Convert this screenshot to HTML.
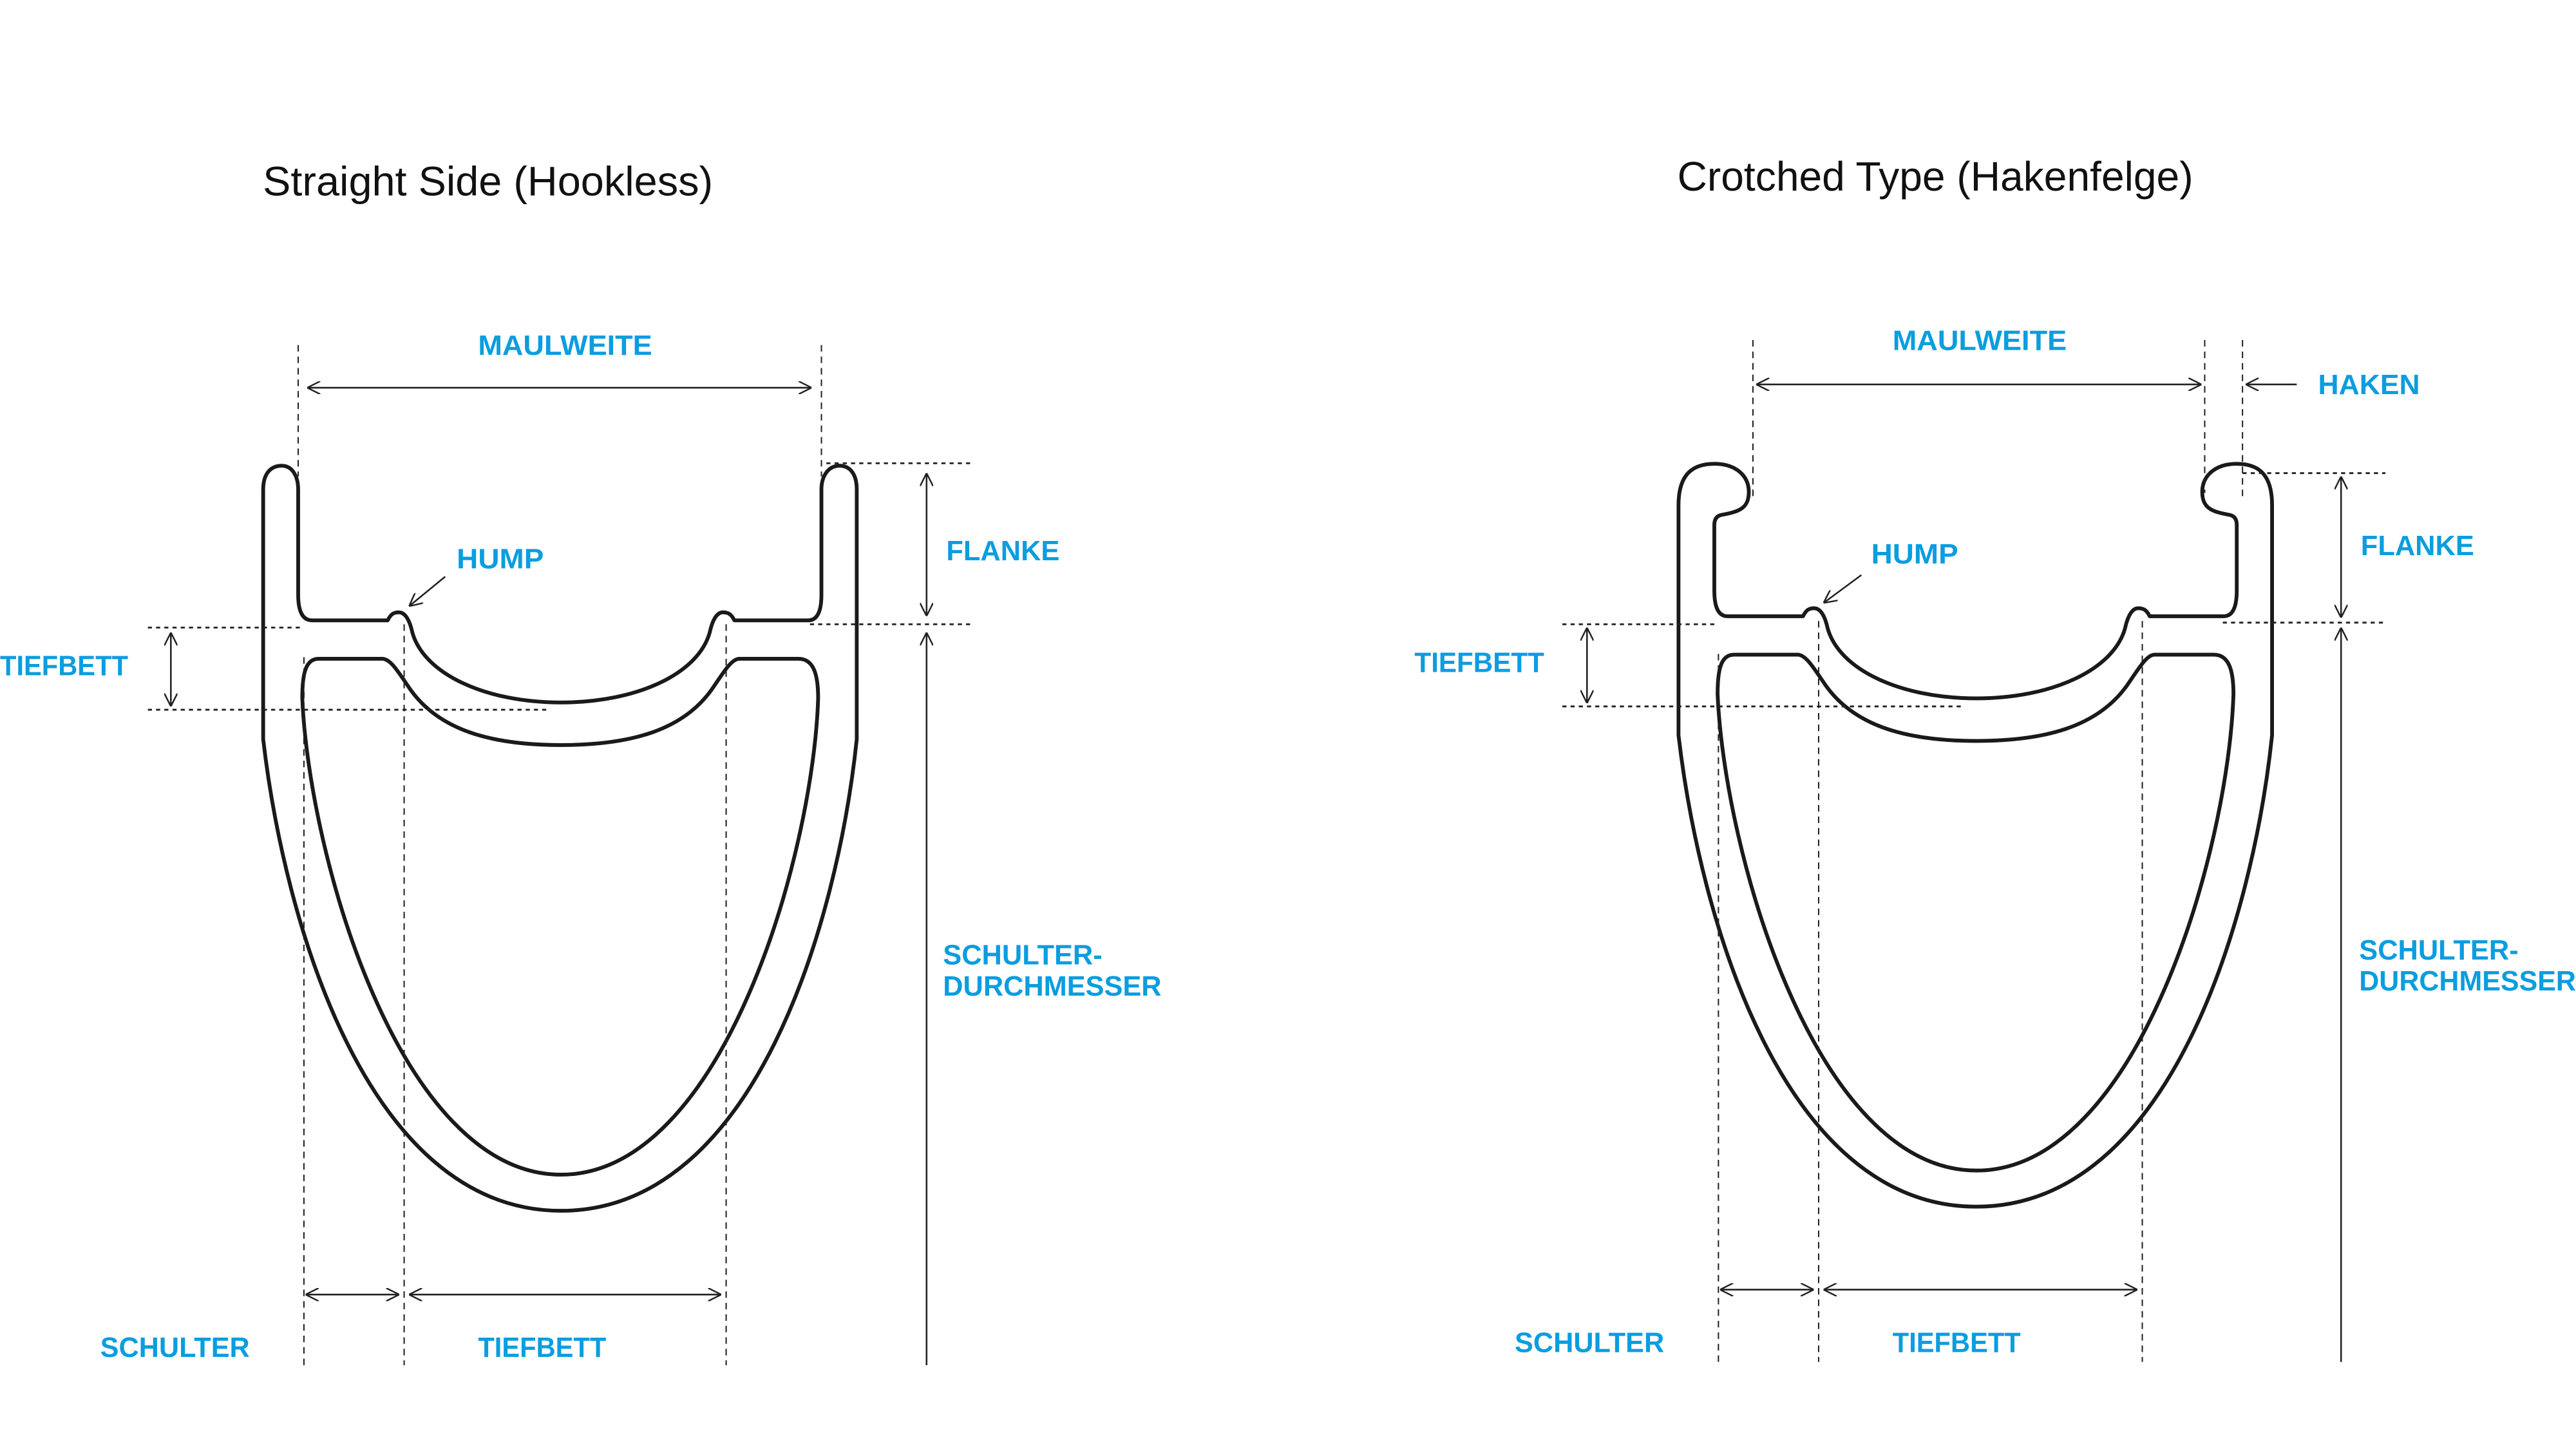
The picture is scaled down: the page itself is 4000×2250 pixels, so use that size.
<!DOCTYPE html>
<html><head><meta charset="utf-8"><style>
html,body{margin:0;padding:0;background:#fff;}
svg{display:block;}
.lbl{font-family:"Liberation Sans",sans-serif;font-weight:bold;font-size:17px;fill:#0a9de0;}
.ttl{font-family:"Liberation Sans",sans-serif;font-size:25px;fill:#111;}
.rim{fill:none;stroke:#1a1a1a;stroke-width:2.3;stroke-linejoin:round;}
.dash{stroke:#222;stroke-width:0.8;stroke-dasharray:4 3;fill:none;}
.dot{stroke:#222;stroke-width:1.1;stroke-dasharray:2.5 2.5;fill:none;}
.ar{stroke:#222;stroke-width:1;fill:none;}
</style></head><body>
<svg width="4000" height="2250" viewBox="0 0 1568 882" xmlns="http://www.w3.org/2000/svg">
<defs>
<marker id="a" viewBox="0 0 10 10" refX="10" refY="5" markerWidth="8" markerHeight="8" markerUnits="userSpaceOnUse" orient="auto-start-reverse">
<path d="M0,0 L10,5 L0,10" fill="none" stroke="#222" stroke-width="1.2"/>
</marker>
</defs>
<rect width="1568" height="882" fill="#fff"/>

<!-- LEFT DIAGRAM -->
<text class="ttl" x="160" y="119" textLength="274" lengthAdjust="spacingAndGlyphs">Straight Side (Hookless)</text>
<path class="rim" d="M160.2,298 C160.2,288 165,283.5 171.5,283.5 C178,283.5 181.5,290 181.5,298 L181.5,362 Q181.5,377.6 190,377.6 L236,377.6 C238,373.5 240,372.7 242.7,372.7 C246,372.7 249,376 251,385 C258,410 295,427.6 341.5,427.6 C388,427.6 425,410 432,385 C434,376 437,372.7 440,372.7 C443,372.7 445,373.5 447,377.6 L492,377.6 Q500,377.6 500,362 L500,298 C500,290 504,283.5 511,283.5 C517,283.5 521.5,288 521.5,298 L521.5,450 C510,560 460,737 341.5,737 C223,737 173,560 160.2,450 Z"/>
<path class="rim" d="M194,401 L232.7,401 C238,401 243,410 250,420 C268,445 300,453.5 341.5,453.5 C383,453.5 415,445 433,420 C440,410 445,401 450,401 L486,401 C495,401 498,410 498,425 C495,520 440,715 341.5,715 C243,715 188,520 184,425 C184,410 186,401 194,401 Z"/>
<line class="dash" x1="181.5" y1="210" x2="181.5" y2="290"/>
<line class="dash" x1="500" y1="210" x2="500" y2="290"/>
<line class="ar" x1="187" y1="236" x2="494" y2="236" marker-start="url(#a)" marker-end="url(#a)"/>
<text class="lbl" x="291" y="216" textLength="106" lengthAdjust="spacingAndGlyphs">MAULWEITE</text>
<line class="dot" x1="503" y1="282" x2="591" y2="282"/>
<line class="dot" x1="493" y1="380" x2="591" y2="380"/>
<line class="ar" x1="564" y1="288" x2="564" y2="375" marker-start="url(#a)" marker-end="url(#a)"/>
<text class="lbl" x="576" y="341" textLength="69" lengthAdjust="spacingAndGlyphs">FLANKE</text>
<line class="ar" x1="564" y1="831" x2="564" y2="385" marker-end="url(#a)"/>
<text class="lbl" x="574" y="587" textLength="97" lengthAdjust="spacingAndGlyphs">SCHULTER-</text>
<text class="lbl" x="574" y="606" textLength="133" lengthAdjust="spacingAndGlyphs">DURCHMESSER</text>
<line class="dot" x1="90" y1="382" x2="183" y2="382"/>
<line class="dot" x1="90" y1="432" x2="335" y2="432"/>
<line class="ar" x1="104" y1="385" x2="104" y2="430" marker-start="url(#a)" marker-end="url(#a)"/>
<text class="lbl" x="0" y="411" textLength="78" lengthAdjust="spacingAndGlyphs">TIEFBETT</text>
<line class="dash" x1="185" y1="400" x2="185" y2="831"/>
<line class="dash" x1="246" y1="380" x2="246" y2="831"/>
<line class="dash" x1="442" y1="380" x2="442" y2="831"/>
<line class="ar" x1="186" y1="788" x2="243" y2="788" marker-start="url(#a)" marker-end="url(#a)"/>
<line class="ar" x1="249" y1="788" x2="439" y2="788" marker-start="url(#a)" marker-end="url(#a)"/>
<text class="lbl" x="61" y="826" textLength="91" lengthAdjust="spacingAndGlyphs">SCHULTER</text>
<text class="lbl" x="291" y="826" textLength="78" lengthAdjust="spacingAndGlyphs">TIEFBETT</text>
<text class="lbl" x="278" y="346" textLength="53" lengthAdjust="spacingAndGlyphs">HUMP</text>
<line class="ar" x1="271" y1="351" x2="249" y2="369" marker-end="url(#a)"/>

<!-- RIGHT DIAGRAM -->
<text class="ttl" x="1021" y="116" textLength="314" lengthAdjust="spacingAndGlyphs">Crotched Type (Hakenfelge)</text>
<g transform="translate(861.5,-2.5)">
<path class="rim" d="M160.2,310 C160.2,290 170,284.8 182,284.8 C195,284.8 203,292 203,302 C203,312 197,314 186,316 Q182,317 182,322 L182,362 Q182,377.6 190,377.6 L236,377.6 C238,373.5 240,372.7 242.7,372.7 C246,372.7 249,376 251,385 C258,410 295,427.6 341.5,427.6 C388,427.6 425,410 432,385 C434,376 437,372.7 440,372.7 C443,372.7 445,373.5 447,377.6 L492,377.6 Q500,377.6 500,362 L500,322 Q500,317 496,316 C485,314 479,312 479,302 C479,292 487,284.8 500,284.8 C512,284.8 521.5,290 521.5,310 L521.5,450 C510,560 460,737 341.5,737 C223,737 173,560 160.2,450 Z"/>
<path class="rim" d="M194,401 L232.7,401 C238,401 243,410 250,420 C268,445 300,453.5 341.5,453.5 C383,453.5 415,445 433,420 C440,410 445,401 450,401 L486,401 C495,401 498,410 498,425 C495,520 440,715 341.5,715 C243,715 188,520 184,425 C184,410 186,401 194,401 Z"/>
</g>
<line class="dash" x1="1067" y1="207" x2="1067" y2="305"/>
<line class="dash" x1="1342" y1="207" x2="1342" y2="300"/>
<line class="dash" x1="1365" y1="207" x2="1365" y2="305"/>
<line class="ar" x1="1069" y1="234" x2="1340" y2="234" marker-start="url(#a)" marker-end="url(#a)"/>
<text class="lbl" x="1152" y="213" textLength="106" lengthAdjust="spacingAndGlyphs">MAULWEITE</text>
<line class="ar" x1="1398" y1="234" x2="1367" y2="234" marker-end="url(#a)"/>
<text class="lbl" x="1411" y="240" textLength="62" lengthAdjust="spacingAndGlyphs">HAKEN</text>
<line class="dot" x1="1365" y1="288" x2="1452" y2="288"/>
<line class="dot" x1="1353" y1="379" x2="1452" y2="379"/>
<line class="ar" x1="1425" y1="290" x2="1425" y2="376" marker-start="url(#a)" marker-end="url(#a)"/>
<text class="lbl" x="1437" y="338" textLength="69" lengthAdjust="spacingAndGlyphs">FLANKE</text>
<line class="ar" x1="1425" y1="829" x2="1425" y2="382" marker-end="url(#a)"/>
<text class="lbl" x="1436" y="584" textLength="97" lengthAdjust="spacingAndGlyphs">SCHULTER-</text>
<text class="lbl" x="1436" y="603" textLength="132" lengthAdjust="spacingAndGlyphs">DURCHMESSER</text>
<line class="dot" x1="951" y1="380" x2="1044" y2="380"/>
<line class="dot" x1="951" y1="430" x2="1196" y2="430"/>
<line class="ar" x1="966" y1="382" x2="966" y2="428" marker-start="url(#a)" marker-end="url(#a)"/>
<text class="lbl" x="861" y="409" textLength="79" lengthAdjust="spacingAndGlyphs">TIEFBETT</text>
<line class="dash" x1="1046" y1="398" x2="1046" y2="829"/>
<line class="dash" x1="1107" y1="378" x2="1107" y2="829"/>
<line class="dash" x1="1304" y1="378" x2="1304" y2="829"/>
<line class="ar" x1="1047" y1="785" x2="1104" y2="785" marker-start="url(#a)" marker-end="url(#a)"/>
<line class="ar" x1="1110" y1="785" x2="1301" y2="785" marker-start="url(#a)" marker-end="url(#a)"/>
<text class="lbl" x="922" y="823" textLength="91" lengthAdjust="spacingAndGlyphs">SCHULTER</text>
<text class="lbl" x="1152" y="823" textLength="78" lengthAdjust="spacingAndGlyphs">TIEFBETT</text>
<text class="lbl" x="1139" y="343" textLength="53" lengthAdjust="spacingAndGlyphs">HUMP</text>
<line class="ar" x1="1133" y1="350" x2="1110" y2="367" marker-end="url(#a)"/>
</svg>
</body></html>
